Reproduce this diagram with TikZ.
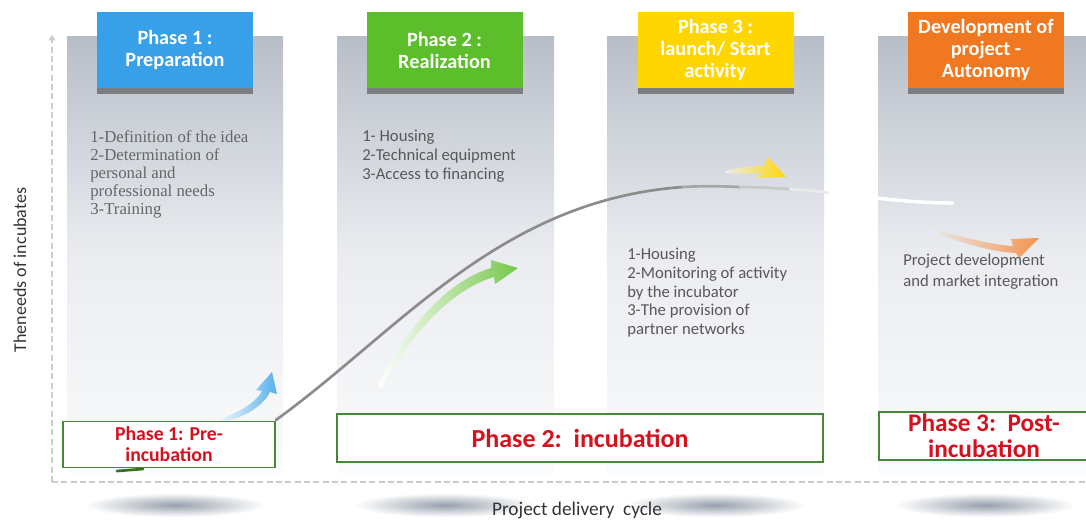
\documentclass[tikz,border=0pt]{standalone}
\usepackage{fontspec}
\setmainfont{Carlito}
\newfontfamily\serifbody{Liberation Serif}
\usetikzlibrary{arrows.meta,shadows}
\definecolor{phaseblue}{RGB}{56,160,232}
\definecolor{phasegreen}{RGB}{92,190,42}
\definecolor{phaseyellow}{RGB}{255,214,0}
\definecolor{phaseorange}{RGB}{240,120,32}
\definecolor{boxgreen}{RGB}{72,135,58}
\definecolor{phasered}{RGB}{214,16,30}
\definecolor{paneltop}{RGB}{184,190,200}
\definecolor{panelmid}{RGB}{234,236,240}
\definecolor{panelbot}{RGB}{250,251,252}
\definecolor{bodygray}{RGB}{88,88,88}
\definecolor{shadowgray}{RGB}{150,160,172}
\tikzset{
 panel/.style={top color=paneltop,bottom color=panelbot,middle color=panelmid},
 header/.style={minimum width=117pt,minimum height=57pt,inner sep=1pt,align=center,text=white,
   font=\bfseries\fontsize{15.2}{16.5}\selectfont,
   drop shadow={shadow xshift=0pt,shadow yshift=-4.5pt,opacity=.55,fill=black!75}},
 stage/.style={draw=boxgreen,line width=0.9pt,fill=white,align=center,text=phasered,inner sep=0pt},
 items/.style={anchor=north west,align=left,inner sep=0pt,text=bodygray,
   font=\fontsize{12.5}{14}\selectfont},
 axisline/.style={draw=black!20,line width=1.4pt,dash pattern=on 4.5pt off 2.5pt},
 floorshadow/.style={inner color=shadowgray,outer color=white},
 needcurve/.style={line width=2pt,line cap=round}
}
\begin{document}
\begin{tikzpicture}[x=0.75pt,y=-0.75pt]
\useasboundingbox (0,0) rectangle (1086,519);
 \shade[floorshadow] (175,505) ellipse [x radius=68pt,y radius=9pt];
 \shade[floorshadow] (445,505) ellipse [x radius=68pt,y radius=9pt];
 \shade[floorshadow] (715,505) ellipse [x radius=68pt,y radius=9pt];
 \shade[floorshadow] (985,505) ellipse [x radius=68pt,y radius=9pt];
 \coordinate (origin) at (52,482);
 \coordinate (ytop) at (52,35);
 \coordinate (xend) at (1090,482);
 \draw[axisline,-{Triangle[width=5pt,length=4pt]}] (origin) -- (ytop);
 \draw[axisline] (origin) -- (xend);
 \shade[panel] (67,36) rectangle (283,472);
 \shade[panel] (337,36) rectangle (554,472);
 \shade[panel] (607,36) rectangle (824,472);
 \shade[panel] (878,36) rectangle (1090,472);
 \coordinate (c0) at (276,420);
 \coordinate (c1) at (683,187);
 \coordinate (c2) at (740,187);
 \coordinate (c3) at (790,189);
 \coordinate (c4) at (830,193);
 \coordinate (c5) at (953,203);
 \draw[needcurve,draw=phasegreen!60!black] (117,471) -- (143,469);
 \draw[needcurve,draw=black!45] (c0) .. controls (400,330) and (500,200) .. (c1);
 \draw[needcurve,draw=black!35] (c1) .. controls (700,186) and (720,186) .. (c2);
 \draw[needcurve,draw=black!22] (c2) .. controls (757,187) and (773,188) .. (c3);
 \draw[needcurve,draw=black!8] (c3) .. controls (803,190) and (817,191) .. (c4);
 \draw[needcurve,draw=white,line width=2.6pt] (c4) .. controls (870,197) and (910,203) .. (c5);
 \shade[left color=white,right color=phaseblue!85] (214,421) .. controls (236,414) and (255,404) .. (262,391)
   -- (256,390) -- (272,372) -- (277,394) -- (270,392) .. controls (262,408) and (240,420) .. (216,423) -- cycle;
 \shade[left color=white,right color=phasegreen!85] (378,386) .. controls (405,330) and (445,282) .. (491,268)
   -- (491,260) -- (518,268) -- (495,284) -- (494,277) .. controls (450,290) and (410,335) .. (382,388) -- cycle;
 \shade[left color=panelmid,right color=phaseyellow] (725,171) .. controls (740,167) and (752,166) .. (764,166)
   -- (768,157) -- (786,177) -- (756,178) -- (762,173) .. controls (750,174) and (738,174) .. (725,173) -- cycle;
 \shade[left color=panelmid,right color=phaseorange!80] (928,228) .. controls (960,236) and (990,245) .. (1013,246)
   -- (1011,239) -- (1039,238) -- (1019,258) -- (1016,253) .. controls (990,252) and (960,242) .. (928,230) -- cycle;
 \node[header,fill=phaseblue] (prep) at (175,50) {Phase 1 :\\Preparation};
 \node[header,fill=phasegreen] (real) at (444.5,50) {Phase 2 :\\Realization};
 \node[header,fill=phaseyellow] (launch) at (715.5,50) {Phase 3 :\\launch/ Start\\activity};
 \node[header,fill=phaseorange] (autonomy) at (986,50) {Development of\\project -\\Autonomy};
 \node[items,font=\serifbody\fontsize{12.6}{13.5}\selectfont,text=black!60] (prepitems) at (90,130)
   {1-Definition\ of the idea\\2-Determination\ of\\personal and\\professional needs\\3-Training};
 \node[items] (realitems) at (362,130) {1- Housing\\2-Technical equipment\\3-Access to financing};
 \node[items] (launchitems) at (627,248)
   {1-Housing\\2-Monitoring of activity\\by the incubator\\3-The provision of\\partner networks};
 \node[items,font=\fontsize{12.5}{15.5}\selectfont] (autoitems) at (903,254)
   {Project development\\and market integration};
 \node[stage,minimum width=159pt,minimum height=35pt,font=\bfseries\fontsize{14.8}{15.75}\selectfont]
   (preinc) at (169,444.5) {Phase 1: Pre-\\incubation};
 \node[stage,minimum width=364.5pt,minimum height=36pt,font=\bfseries\fontsize{19.5}{20}\selectfont]
   (incub) at (580,438) {Phase 2:\ \ incubation};
 \node[stage,minimum width=157.5pt,minimum height=36pt,font=\bfseries\fontsize{19}{19.5}\selectfont]
   (postinc) at (984,436) {Phase 3:\ \ Post-\\incubation};
 \node[rotate=90,font=\fontsize{13.5}{15}\selectfont,text=black!80] (needs) at (20,270) {Theneeds of incubates};
 \node[font=\fontsize{14.5}{16}\selectfont,text=black!80] (cycle) at (577,510) {Project delivery\ \ cycle};
\end{tikzpicture}
\end{document}
